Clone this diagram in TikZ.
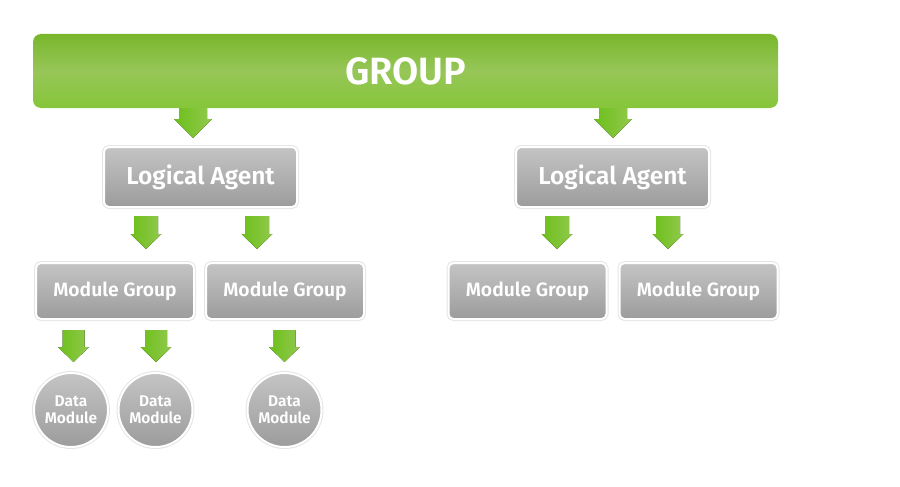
\documentclass[tikz,border=0pt]{standalone}
\usepackage{fontspec}
\setmainfont{Fira Sans}
\newfontfamily\labfont{Fira Sans SemiBold}
\usetikzlibrary{calc}
\definecolor{gtop}{HTML}{78B72C}
\definecolor{gmid}{HTML}{97C658}
\definecolor{gbot}{HTML}{86C63A}
\definecolor{atl}{HTML}{6CBF1A}
\definecolor{atr}{HTML}{92C94E}
\definecolor{boxtop}{HTML}{C4C4C4}
\definecolor{boxbot}{HTML}{9C9C9C}
\tikzset{
  groupbar/.style={rectangle, rounded corners=8pt, minimum width=745pt, minimum height=74pt,
    top color=gtop, bottom color=gbot, middle color=gmid, inner sep=0pt, outer sep=0pt,
    text=white, font=\labfont\fontsize{38}{42}\selectfont},
  graybox/.style={rectangle, rounded corners=5pt, draw=white, line width=2pt,
    top color=boxtop, bottom color=boxbot, text=white, inner sep=0pt, outer sep=0pt,
    preaction={draw=black!10, line width=4pt}},
  agentbox/.style={graybox, minimum width=193pt, minimum height=60pt, font=\labfont\fontsize{24.5}{27}\selectfont},
  modbox/.style={graybox, minimum width=158pt, minimum height=56pt, font=\labfont\fontsize{19.3}{22}\selectfont},
  datacirc/.style={circle, draw=white, line width=2pt, top color=boxtop, bottom color=boxbot,
    text=white, inner sep=0pt, outer sep=0pt, minimum size=74pt, align=center,
    preaction={draw=black!10, line width=4pt},
    font=\labfont\fontsize{15.5}{16.5}\selectfont},
  arrowshade/.style={left color=atl, right color=atr}
}
% #1 from, #2 to, #3 x, #4 gap top, #5 gap bottom, #6 shaft half width, #7 head half width, #8 head length
\newcommand\barrow[8]{%
  \fill[arrowshade] let \p1=(#1.south), \p2=(#2.north) in
    ({#3-#6},\y1-#4) -- ({#3+#6},\y1-#4) -- ({#3+#6},\y2+#5+#8) -- ({#3+#7},\y2+#5+#8)
    -- (#3,\y2+#5) -- ({#3-#7},\y2+#5+#8) -- ({#3-#6},\y2+#5+#8) -- cycle;}
\begin{document}
\begin{tikzpicture}[x=1pt,y=1pt]
\useasboundingbox (0,0) rectangle (900,-487);
\node[groupbar] (g) at (405.5,-71) {\raisebox{-1pt}{GROUP}};
\node[agentbox] (la1) at (200.5,-177) {Logical Agent};
\node[agentbox] (la2) at (612.5,-177) {Logical Agent};
\node[modbox] (mg1) at (115,-291) {Module Group};
\node[modbox] (mg2) at (285,-291) {Module Group};
\node[modbox] (mg3) at (527.5,-291) {Module Group};
\node[modbox] (mg4) at (698.5,-291) {Module Group};
\node[datacirc] (dm1) at (71,-410) {Data\\Module};
\node[datacirc] (dm2) at (155.5,-410) {Data\\Module};
\node[datacirc] (dm3) at (284.5,-410) {Data\\Module};
\barrow{g}{la1}{193}{0}{9}{14}{19}{19}
\barrow{g}{la2}{613}{0}{9}{14}{19}{19}
\barrow{la1}{mg1}{146}{9}{14}{12}{15.5}{15}
\barrow{la1}{mg2}{257}{9}{14}{12}{15.5}{15}
\barrow{la2}{mg3}{557}{9}{14}{12}{15.5}{15}
\barrow{la2}{mg4}{668}{9}{14}{12}{15.5}{15}
\barrow{mg1}{dm1}{73.5}{11}{11}{11}{15.5}{15}
\barrow{mg1}{dm2}{156}{11}{11}{11}{15.5}{15}
\barrow{mg2}{dm3}{284.5}{11}{11}{11}{15.5}{15}
\end{tikzpicture}
\end{document}
